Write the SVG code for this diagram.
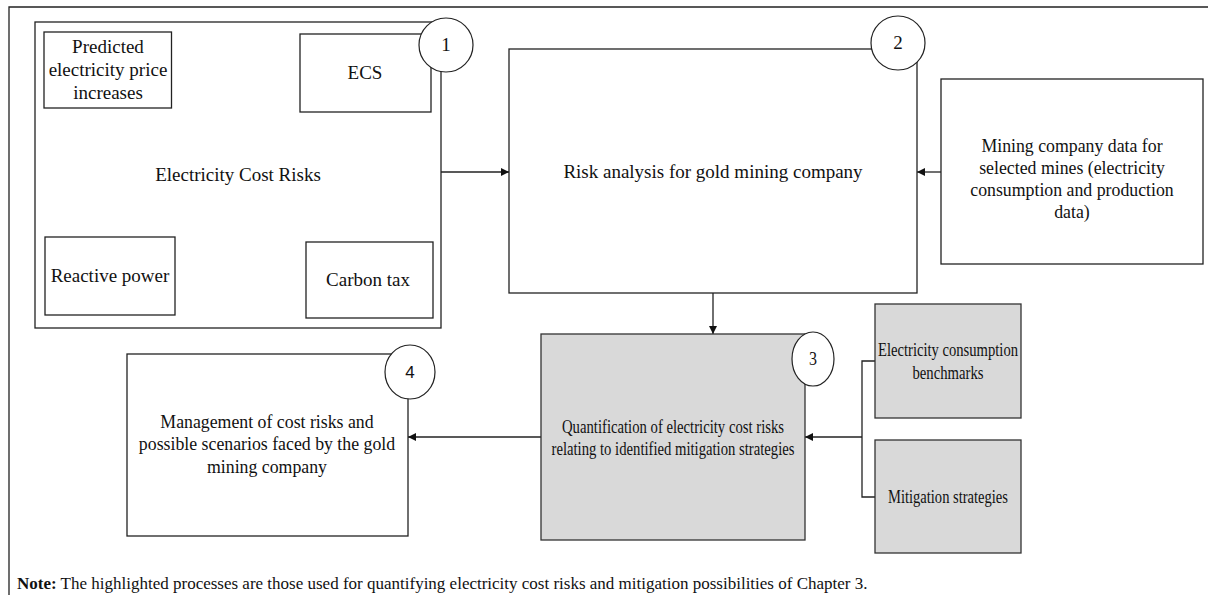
<svg xmlns="http://www.w3.org/2000/svg" width="1208" height="595" viewBox="0 0 1208 595">
  <style>
    .box { fill: #ffffff; stroke: #222; stroke-width: 1.3; }
    .hl { fill: #d9d9d9; stroke: #333; stroke-width: 1.3; }
    .badge { fill: #ffffff; stroke: #222; stroke-width: 1.2; }
    .t { font-family: "Liberation Serif", "Times New Roman", serif; font-size: 19px; fill: #111; text-anchor: middle; }
    .s { font-size: 17.8px; }
    .n { font-family: "Liberation Serif", "Times New Roman", serif; font-size: 19px; fill: #111; text-anchor: middle; }
    .ns { font-family: "Liberation Sans", Arial, sans-serif; font-size: 17px; fill: #111; text-anchor: middle; }
    .note { font-family: "Liberation Serif", "Times New Roman", serif; font-size: 17px; fill: #111; }
    .line { fill: none; stroke: #222; stroke-width: 1.3; }
  </style>
  <defs>
    <marker id="arrow" viewBox="0 0 10 10" refX="10" refY="5" markerWidth="8" markerHeight="8" markerUnits="userSpaceOnUse" orient="auto">
      <path d="M0,0 L10,5 L0,10 Z" fill="#111"/>
    </marker>
  </defs>

  <!-- page frame (top and left edges) -->
  <path class="line" d="M9,595 V7 H1208"/>

  <!-- connectors -->
  <g id="connectors">
    <path class="line" d="M441,172 H509" marker-end="url(#arrow)"/>
    <path class="line" d="M941,172 H917" marker-end="url(#arrow)"/>
    <path class="line" d="M713,293 V334" marker-end="url(#arrow)"/>
    <path class="line" d="M541,437 H408" marker-end="url(#arrow)"/>
    <path class="line" d="M875,361 H862 V497 H875"/>
    <path class="line" d="M862,437 H805" marker-end="url(#arrow)"/>
  </g>

  <!-- 1: electricity cost risks -->
  <g id="node-cost-risks">
    <rect class="box" x="35" y="22" width="406" height="306"/>
    <text class="t" x="238" y="181">Electricity Cost Risks</text>
    <rect class="box" x="44" y="32" width="127.5" height="76"/>
    <text class="t" x="108" y="53">Predicted</text>
    <text class="t" x="108" y="76">electricity price</text>
    <text class="t" x="108" y="99">increases</text>
    <rect class="box" x="300" y="34" width="131" height="78"/>
    <text class="t" x="365" y="79">ECS</text>
    <rect class="box" x="45" y="237" width="130" height="78"/>
    <text class="t" x="110" y="282">Reactive power</text>
    <rect class="box" x="306" y="242" width="127" height="76"/>
    <text class="t" x="368" y="286">Carbon tax</text>
    <circle class="badge" cx="446" cy="45" r="27"/>
    <text class="n" x="446" y="51">1</text>
  </g>

  <!-- 2: risk analysis -->
  <g id="node-risk-analysis">
    <rect class="box" x="509" y="49" width="408" height="244"/>
    <text class="t" x="713" y="178">Risk analysis for gold mining company</text>
    <circle class="badge" cx="898" cy="43" r="27"/>
    <text class="n" x="898" y="49">2</text>
  </g>

  <!-- mining company data -->
  <g id="node-mining-data">
    <rect class="box" x="941" y="79" width="262" height="185"/>
    <text class="t s" x="1072" y="152">Mining company data for</text>
    <text class="t s" x="1072" y="174">selected mines (electricity</text>
    <text class="t s" x="1072" y="196">consumption and production</text>
    <text class="t s" x="1072" y="218">data)</text>
  </g>

  <!-- 3: quantification -->
  <g id="node-quantification">
    <rect class="hl" x="541" y="334" width="264" height="206"/>
    <text class="t" x="673" y="433" textLength="222" lengthAdjust="spacingAndGlyphs">Quantification of electricity cost risks</text>
    <text class="t" x="673" y="455" textLength="243" lengthAdjust="spacingAndGlyphs">relating to identified mitigation strategies</text>
    <ellipse class="badge" cx="813" cy="359" rx="21" ry="27"/>
    <text class="n" x="813" y="365" textLength="8" lengthAdjust="spacingAndGlyphs">3</text>
  </g>

  <!-- benchmarks -->
  <g id="node-benchmarks">
    <rect class="hl" x="875" y="304" width="146" height="114"/>
    <text class="t" x="948" y="356" textLength="140" lengthAdjust="spacingAndGlyphs">Electricity consumption</text>
    <text class="t" x="948" y="379" textLength="71" lengthAdjust="spacingAndGlyphs">benchmarks</text>
  </g>

  <!-- mitigation strategies -->
  <g id="node-mitigation">
    <rect class="hl" x="875" y="440" width="146" height="113"/>
    <text class="t" x="948" y="503" textLength="120" lengthAdjust="spacingAndGlyphs">Mitigation strategies</text>
  </g>

  <!-- 4: management -->
  <g id="node-management">
    <rect class="box" x="127" y="354" width="281" height="182"/>
    <text class="t s" x="267" y="428">Management of cost risks and</text>
    <text class="t s" x="267" y="450">possible scenarios faced by the gold</text>
    <text class="t s" x="267" y="473">mining company</text>
    <ellipse class="badge" cx="410" cy="372" rx="25" ry="27"/>
    <text class="ns" x="410" y="378">4</text>
  </g>

  <!-- footnote -->
  <text class="note" x="17" y="589"><tspan font-weight="bold">Note:</tspan> The highlighted processes are those used for quantifying electricity cost risks and mitigation possibilities of Chapter 3.</text>
</svg>
